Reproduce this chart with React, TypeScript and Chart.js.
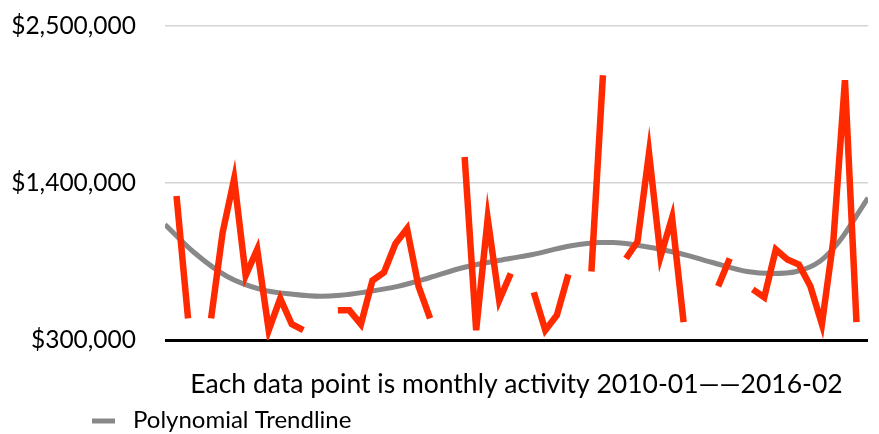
import { useEffect, useRef } from 'react';
import Chart from 'chart.js/auto';

// Monthly activity (one point per month shown; null = no data for that slot)
const activityValues: (number | null)[] = [
  1310000, 453000, null, 453000, 1053000, 1430000, 753000, 935000, 370000, 593000,
  412000, 370000, null, null, 509000, 509000, 412000, 718000, 774000, 977000,
  1081000, 677000, 453000, null, null, 1583000, 370000, 1151000, 579000, 767000,
  null, 635000, 370000, 474000, 760000, null, 781000, 2155000, null, 872000,
  990000, 1611000, 886000, 1158000, 426000, null, null, 677000, 872000, null,
  656000, 600000, 935000, 865000, 830000, 677000, 412000, 1004000, 2120000, 426000,
];

// Polynomial trendline at these slot positions
const trendPositions: number[] = [
  -1, 1.5, 4.4, 7.3, 10.1, 12.5, 14.2, 16.2, 19.2, 22, 24.9, 28.9, 30.9,
  33.9, 36.7, 37.9, 39.6, 43.7, 46.5, 49.5, 51.7, 53.8, 55.8, 57.5, 60,
];
const trendValues: number[] = [
  1110000, 916000, 746000, 656000, 621000, 607000, 614000, 635000, 677000, 739000,
  809000, 872000, 900000, 956000, 984000, 984000, 970000, 907000, 844000, 781000,
  767000, 781000, 851000, 991000, 1297000,
];

const yTickValues: number[] = [300000, 1400000, 2500000];
const xCaption = 'Each data point is monthly activity 2010-01\u2014\u20142016-02';
const trendLabel = 'Polynomial Trendline';

const FONT = 'Lato, "Open Sans", sans-serif';

export default function App() {
  const ref = useRef<HTMLCanvasElement | null>(null);

  useEffect(() => {
    document.body.style.margin = '0';
    const canvas = ref.current;
    if (!canvas) return;

    const legendPlugin = {
      id: 'trendLegend',
      afterDraw(chart: any) {
        const ctx = chart.ctx as CanvasRenderingContext2D;
        ctx.save();
        ctx.strokeStyle = '#888888';
        ctx.lineWidth = 5;
        ctx.beginPath();
        ctx.moveTo(92, 421);
        ctx.lineTo(115, 421);
        ctx.stroke();
        ctx.fillStyle = '#000000';
        ctx.font = `24px ${FONT}`;
        ctx.textBaseline = 'middle';
        ctx.textAlign = 'left';
        ctx.fillText(trendLabel, 133, 420);
        ctx.restore();
      },
    };

    const chart = new Chart(canvas, {
      type: 'line',
      data: {
        datasets: [
          {
            label: 'Activity',
            data: activityValues.map((v, i) => ({ x: i, y: v })) as any,
            borderColor: '#ff2a00',
            borderWidth: 6.5,
            pointRadius: 0,
            tension: 0,
            spanGaps: false,
            borderCapStyle: 'butt',
            borderJoinStyle: 'miter',
            order: 1,
          },
          {
            label: trendLabel,
            data: trendPositions.map((x, i) => ({ x, y: trendValues[i] })),
            borderColor: '#888888',
            borderWidth: 5,
            pointRadius: 0,
            cubicInterpolationMode: 'monotone',
            order: 2,
          },
        ],
      },
      options: {
        animation: false,
        responsive: false,
        maintainAspectRatio: false,
        layout: { padding: { top: 26, right: 11, bottom: 34, left: 0 } },
        plugins: {
          legend: { display: false },
          tooltip: { enabled: false },
        },
        scales: {
          x: {
            type: 'linear',
            min: -1,
            max: 60,
            ticks: { display: false },
            grid: { display: false, drawTicks: false },
            border: { display: false },
            title: {
              display: true,
              text: xCaption,
              color: '#000000',
              font: { family: FONT, size: 26.5 },
              padding: { top: 28, bottom: 0 },
            },
          },
          y: {
            min: 300000,
            max: 2500000,
            afterBuildTicks: (scale: any) => {
              scale.ticks = yTickValues.map((v) => ({ value: v }));
            },
            afterFit: (scale: any) => {
              scale.width = 165;
              scale.paddingTop = 0;
              scale.paddingBottom = 0;
            },
            ticks: {
              padding: 29,
              color: '#000000',
              font: { family: FONT, size: 24.5 },
              callback: (v: any) => '$' + Number(v).toLocaleString('en-US'),
            },
            grid: {
              drawTicks: false,
              color: (c: any) => (c.tick && c.tick.value === 300000 ? '#000000' : '#d4d4d4'),
              lineWidth: (c: any) => (c.tick && c.tick.value === 300000 ? 3 : 1.5),
            },
            border: { display: false },
          },
        },
      },
      plugins: [legendPlugin],
    });

    return () => chart.destroy();
  }, []);

  return (
    <div style={{ width: 879, height: 434 }}>
      <canvas ref={ref} width={879} height={434} style={{ display: 'block', width: 879, height: 434 }} />
    </div>
  );
}
